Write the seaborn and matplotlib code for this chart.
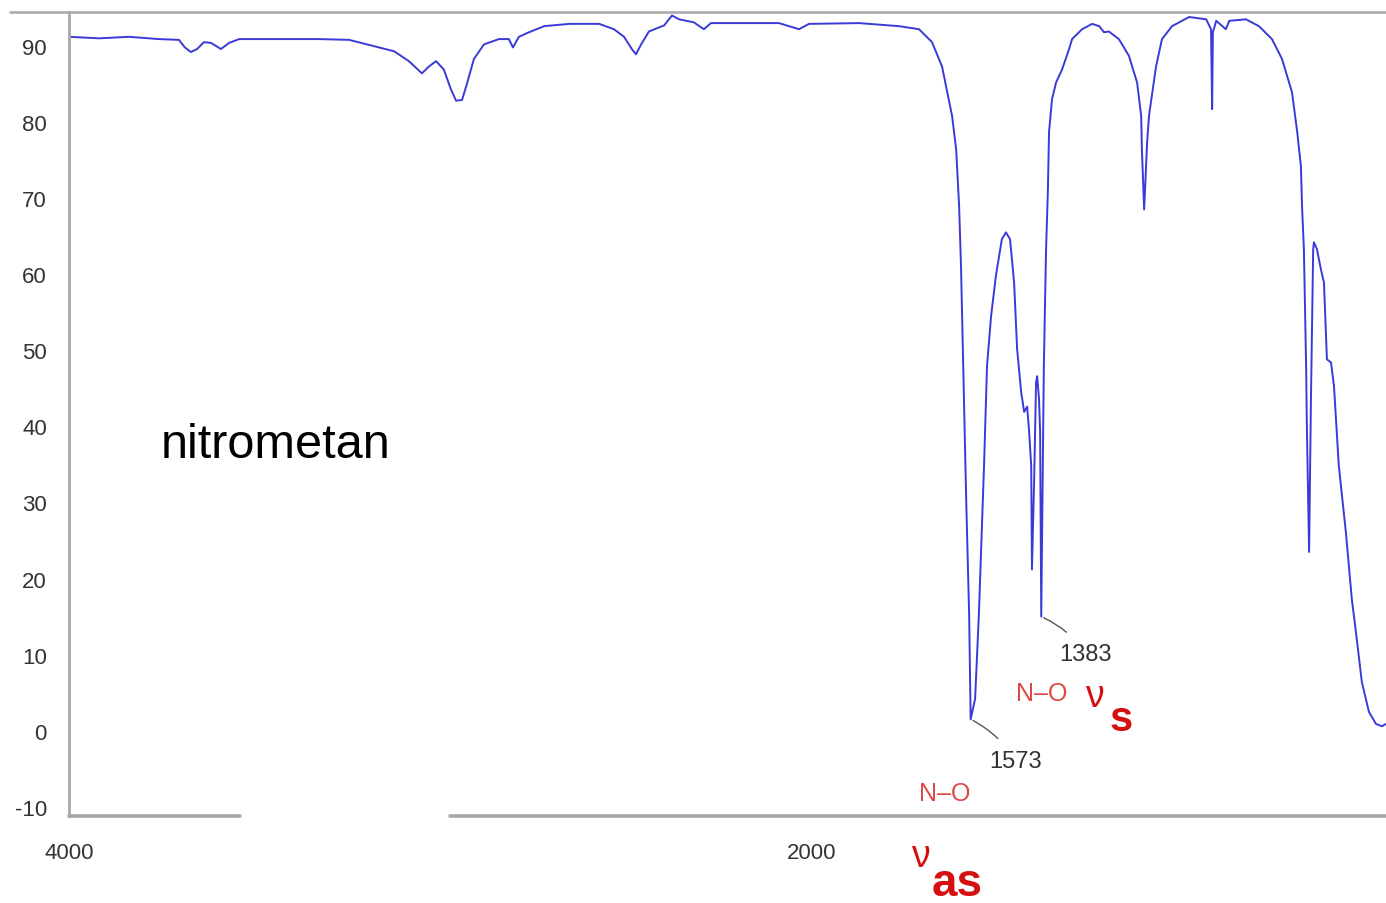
import numpy as np
import pandas as pd
import matplotlib
matplotlib.use("Agg")
import matplotlib.pyplot as plt
from matplotlib.lines import Line2D
from matplotlib.ticker import FixedLocator, MultipleLocator, NullFormatter
import seaborn as sns

# ---- data ----
wavenumber = [4000, 3919, 3838, 3758, 3704, 3688, 3672, 3655, 3637, 3618, 3591, 3569, 3542,
              3435, 3327, 3246, 3166, 3125, 3085, 3050, 3031, 3012, 2991, 2972, 2958, 2942,
              2929, 2910, 2883, 2843, 2816, 2805, 2789, 2762, 2721, 2654, 2573, 2533, 2506,
              2485, 2474, 2460, 2439, 2398, 2377, 2358, 2318, 2291, 2272, 2197, 2089, 2035,
              2008, 1873, 1766, 1712, 1677, 1650, 1623, 1612, 1604, 1599, 1591, 1585, 1577,
              1573, 1561, 1551, 1537, 1529, 1518, 1505, 1489, 1478, 1467, 1456, 1448, 1437,
              1429, 1421, 1416, 1410, 1408, 1402, 1397, 1394, 1389, 1386, 1383, 1376, 1370,
              1365, 1362, 1354, 1343, 1327, 1308, 1300, 1273, 1246, 1227, 1214, 1201, 1174,
              1147, 1125, 1114, 1112, 1106, 1098, 1093, 1074, 1058, 1031, 985, 939, 926, 923,
              921, 912, 886, 877, 832, 797, 762, 735, 708, 694, 684, 681, 676, 670, 668, 662,
              657, 651, 649, 641, 630, 622, 614, 603, 595, 582, 563, 547, 536, 520, 501, 482,
              466, 455]
transmittance = [91.2, 91.0, 91.2, 90.9, 90.8, 89.8, 89.2, 89.6, 90.5, 90.4, 89.6, 90.4, 90.9,
                 90.9, 90.9, 90.8, 89.8, 89.3, 88.0, 86.4, 87.3, 88.0, 86.9, 84.3, 82.8, 82.9,
                 85.0, 88.3, 90.2, 90.9, 90.9, 89.8, 91.2, 91.8, 92.6, 92.9, 92.9, 92.2, 91.2,
                 89.6, 88.9, 90.2, 91.9, 92.7, 94.0, 93.5, 93.1, 92.2, 93.0, 93.0, 93.0, 92.2,
                 92.9, 93.0, 92.6, 92.2, 90.5, 87.3, 80.8, 76.4, 68.9, 61.1, 43.6, 30.4, 15.1,
                 1.5, 4.2, 15.1, 34.8, 47.9, 54.5, 59.8, 64.6, 65.5, 64.6, 58.9, 50.2, 44.5,
                 41.9, 42.6, 39.6, 34.8, 21.2, 33.1, 45.8, 46.6, 43.6, 39.3, 15.0, 47.9, 63.3,
                 71.2, 78.7, 83.0, 85.2, 86.9, 89.6, 90.9, 92.2, 92.9, 92.6, 91.8, 91.9, 90.9,
                 88.7, 85.2, 80.8, 76.4, 68.5, 77.3, 80.8, 87.3, 90.9, 92.6, 93.8, 93.5, 92.2, 81.7,
                 91.8, 93.3, 92.2, 93.3, 93.5, 92.6, 90.9, 88.3, 83.9, 78.7, 74.2, 68.9, 63.3,
                 47.9, 40.0, 23.5, 43.6, 63.3, 64.2, 63.3, 60.6, 58.9, 48.8, 48.4, 45.3, 34.8,
                 26.1, 17.3, 13.0, 6.4, 2.5, 0.9, 0.6, 0.9]

peak_labels = ["1573", "1383"]
peak_wn = [1573, 1383]
peak_T = [1.5, 15.0]

y_ticks = [-10, 0, 10, 20, 30, 40, 50, 60, 70, 80, 90]
x_labeled = [4000, 2000]
x_small = [3000, 2500, 1500, 1000, 500]

title_text = "nitrometan"

# ---- figure ----
sns.set_style("white")
plt.rcParams['font.family'] = ['Liberation Sans', 'DejaVu Sans']
plt.rcParams['axes.unicode_minus'] = False

fig = plt.figure(figsize=(13.86, 9.04), dpi=100)
ax = fig.add_axes([69 / 1386, 1 - 817 / 904, 1317 / 1386, (817 - 12.7) / 904])

df = pd.DataFrame({"wn": wavenumber, "T": transmittance})
sns.lineplot(data=df, x="wn", y="T", sort=False, estimator=None,
             color="#3a3ad8", linewidth=1.4, ax=ax)

ax.set_xlim(4000, 455)
ax.set_ylim(-11.2, 94.5)
ax.set_xlabel("")
ax.set_ylabel("")

axis_gray = "#a8a8a8"
ax.spines["right"].set_visible(False)
ax.spines["left"].set_color(axis_gray)
ax.spines["left"].set_linewidth(2)
ax.spines["top"].set_color(axis_gray)
ax.spines["top"].set_linewidth(1.8)
ax.spines["bottom"].set_visible(False)
# bottom axis line drawn with a gap (as in the original)
ax.axhline(ax.get_ylim()[0], xmin=0, xmax=(240 - 69) / 1317, color=axis_gray, lw=2.6, clip_on=False)
ax.axhline(ax.get_ylim()[0], xmin=(450 - 69) / 1317, xmax=1, color=axis_gray, lw=2.6, clip_on=False)
# extension of top border to the left
fig.add_artist(Line2D([10 / 1386, 69 / 1386], [1 - 12.7 / 904] * 2, color=axis_gray, lw=1.8))

# y ticks
ax.yaxis.set_major_locator(FixedLocator(y_ticks))
ax.yaxis.set_minor_locator(MultipleLocator(2.5))
ax.tick_params(axis="y", which="major", direction="out", length=6, width=1.4, color="#444",
               pad=10, labelsize=16, labelcolor="#333")
ax.tick_params(axis="y", which="minor", direction="inout", length=5, width=1.6, color="#555")

# x ticks
ax.xaxis.set_major_locator(FixedLocator(x_labeled))
ax.xaxis.set_minor_locator(FixedLocator(x_small))
ax.xaxis.set_minor_formatter(NullFormatter())
ax.tick_params(axis="x", which="major", direction="out", length=8, width=1.4, color="#444",
               pad=11, labelsize=16, labelcolor="#333")
ax.tick_params(axis="x", which="minor", direction="inout", length=6, width=1.2, color="#555")
ax.set_xticklabels([str(v) for v in x_labeled])

# sample name
ax.text(3443, 36.0, title_text, fontsize=35, color="black", ha="center", va="baseline")

# peak annotations
offsets = [(32, -30), (32, -27)]
for lab, x, y, off in zip(peak_labels, peak_wn, peak_T, offsets):
    ax.annotate(lab, xy=(x, y), xytext=off, textcoords="offset points",
                ha="center", va="center", fontsize=17, color="#333",
                arrowprops=dict(arrowstyle="-", color="#555", lw=1.0,
                                connectionstyle="arc3,rad=0.15", shrinkA=8, shrinkB=2))

# band assignments
light_red = "#e04848"
red = "#d41010"
ax.text(1642, -8.2, "N–O", fontsize=18, color=light_red, ha="center", va="center", clip_on=False)
ax.text(1709, -16.5, "ν", fontsize=27, color=red, ha="center", va="center", clip_on=False)
ax.text(1610, -20.0, "as", fontsize=33, color=red, fontweight="bold", ha="center", va="center",
        clip_on=False)
ax.text(1381, 4.9, "N–O", fontsize=18, color=light_red, ha="center", va="center", clip_on=False)
ax.text(1241, 4.6, "ν", fontsize=27, color=red, ha="center", va="center", clip_on=False)
ax.text(1168, 1.5, "s", fontsize=30, color=red, fontweight="bold", ha="center", va="center",
        clip_on=False)

fig.savefig("out.png", dpi=100, facecolor="white")
